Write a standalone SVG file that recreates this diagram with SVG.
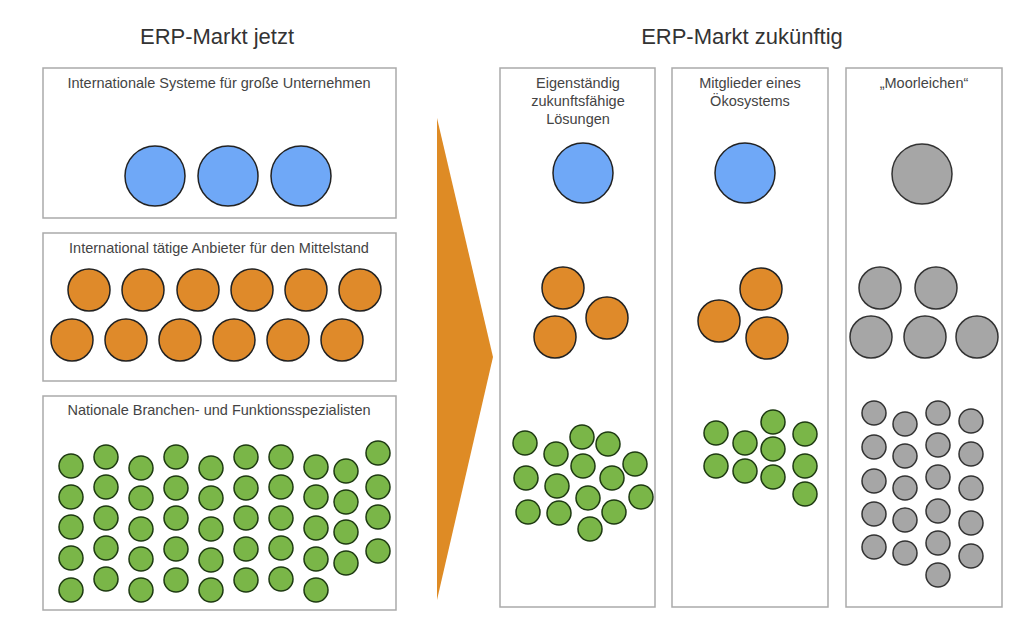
<svg xmlns="http://www.w3.org/2000/svg" width="1024" height="639" viewBox="0 0 1024 639">
<style>
text{font-family:"Liberation Sans",Arial,sans-serif;fill:#444;text-anchor:middle}
.t{font-size:22px;fill:#333}
.l{font-size:14.5px}
.box{fill:#fff;stroke:#aaa;stroke-width:1.5}
.b{fill:#6fa8f7;stroke:#222;stroke-width:1.5}
.o{fill:#df8a2a;stroke:#222;stroke-width:1.5}
.g{fill:#7ab648;stroke:#1e3a12;stroke-width:1.5}
.y{fill:#a6a6a6;stroke:#333;stroke-width:1.5}
</style>
<rect width="1024" height="639" fill="#fff"/>
<text class="t" x="217" y="44">ERP-Markt jetzt</text>
<text class="t" x="742" y="44">ERP-Markt zukünftig</text>
<rect class="box" x="43" y="68" width="353" height="150"/>
<rect class="box" x="43" y="233" width="353" height="148"/>
<rect class="box" x="43" y="396" width="353" height="214"/>
<rect class="box" x="500" y="68" width="155" height="539"/>
<rect class="box" x="672" y="68" width="156" height="539"/>
<rect class="box" x="846" y="68" width="156" height="539"/>
<text class="l" x="219" y="88">Internationale Systeme für große Unternehmen</text>
<text class="l" x="219" y="253">International tätige Anbieter für den Mittelstand</text>
<text class="l" x="219" y="415">Nationale Branchen- und Funktionsspezialisten</text>
<text class="l" x="578" y="88">Eigenständig</text>
<text class="l" x="578" y="106">zukunftsfähige</text>
<text class="l" x="578" y="124">Lösungen</text>
<text class="l" x="750" y="88">Mitglieder eines</text>
<text class="l" x="750" y="106">Ökosystems</text>
<text class="l" x="924" y="88">„Moorleichen“</text>
<polygon points="437,118 493,357 437,600" fill="#de8b25"/>
<g>
<circle class="b" cx="155" cy="176" r="30"/><circle class="b" cx="228" cy="176" r="30"/><circle class="b" cx="301" cy="176" r="30"/>
<circle class="b" cx="583" cy="173" r="30"/><circle class="b" cx="745" cy="173" r="30"/><circle class="y" cx="922" cy="174" r="30"/>
</g>
<g>
<circle class="o" cx="89" cy="290" r="21"/><circle class="o" cx="143" cy="290" r="21"/><circle class="o" cx="198" cy="290" r="21"/><circle class="o" cx="252" cy="290" r="21"/><circle class="o" cx="306" cy="290" r="21"/><circle class="o" cx="360" cy="290" r="21"/>
<circle class="o" cx="72" cy="340" r="21"/><circle class="o" cx="126" cy="340" r="21"/><circle class="o" cx="180" cy="340" r="21"/><circle class="o" cx="234" cy="340" r="21"/><circle class="o" cx="288" cy="340" r="21"/><circle class="o" cx="342" cy="340" r="21"/>
<circle class="o" cx="563" cy="288" r="21"/><circle class="o" cx="607" cy="318" r="21"/><circle class="o" cx="555" cy="337" r="21"/>
<circle class="o" cx="761" cy="289" r="21"/><circle class="o" cx="719" cy="321" r="21"/><circle class="o" cx="767" cy="338" r="21"/>
<circle class="y" cx="880" cy="288" r="21"/><circle class="y" cx="936" cy="288" r="21"/><circle class="y" cx="871" cy="337" r="21"/><circle class="y" cx="925" cy="337" r="21"/><circle class="y" cx="977" cy="337" r="21"/>
</g>
<g>
<circle class="g" cx="71" cy="466" r="12"/><circle class="g" cx="71" cy="497" r="12"/><circle class="g" cx="71" cy="527" r="12"/><circle class="g" cx="71" cy="558" r="12"/><circle class="g" cx="71" cy="590" r="12"/>
<circle class="g" cx="106" cy="457" r="12"/><circle class="g" cx="106" cy="487" r="12"/><circle class="g" cx="106" cy="518" r="12"/><circle class="g" cx="106" cy="548" r="12"/><circle class="g" cx="106" cy="579" r="12"/>
<circle class="g" cx="141" cy="468" r="12"/><circle class="g" cx="141" cy="498" r="12"/><circle class="g" cx="141" cy="529" r="12"/><circle class="g" cx="141" cy="559" r="12"/><circle class="g" cx="141" cy="590" r="12"/>
<circle class="g" cx="176" cy="457" r="12"/><circle class="g" cx="176" cy="488" r="12"/><circle class="g" cx="176" cy="518" r="12"/><circle class="g" cx="176" cy="549" r="12"/><circle class="g" cx="176" cy="580" r="12"/>
<circle class="g" cx="211" cy="468" r="12"/><circle class="g" cx="211" cy="498" r="12"/><circle class="g" cx="211" cy="529" r="12"/><circle class="g" cx="211" cy="560" r="12"/><circle class="g" cx="211" cy="590" r="12"/>
<circle class="g" cx="246" cy="457" r="12"/><circle class="g" cx="246" cy="488" r="12"/><circle class="g" cx="246" cy="518" r="12"/><circle class="g" cx="246" cy="549" r="12"/><circle class="g" cx="246" cy="580" r="12"/>
<circle class="g" cx="281" cy="457" r="12"/><circle class="g" cx="281" cy="487" r="12"/><circle class="g" cx="281" cy="518" r="12"/><circle class="g" cx="281" cy="548" r="12"/><circle class="g" cx="281" cy="579" r="12"/>
<circle class="g" cx="316" cy="467" r="12"/><circle class="g" cx="316" cy="497" r="12"/><circle class="g" cx="316" cy="528" r="12"/><circle class="g" cx="316" cy="559" r="12"/><circle class="g" cx="316" cy="590" r="12"/>
<circle class="g" cx="346" cy="471" r="12"/><circle class="g" cx="346" cy="502" r="12"/><circle class="g" cx="346" cy="532" r="12"/><circle class="g" cx="346" cy="563" r="12"/>
<circle class="g" cx="378" cy="453" r="12"/><circle class="g" cx="378" cy="487" r="12"/><circle class="g" cx="378" cy="517" r="12"/><circle class="g" cx="378" cy="551" r="12"/>
<circle class="g" cx="525" cy="443" r="12"/><circle class="g" cx="556" cy="454" r="12"/><circle class="g" cx="582" cy="437" r="12"/><circle class="g" cx="608" cy="444" r="12"/><circle class="g" cx="526" cy="478" r="12"/><circle class="g" cx="583" cy="466" r="12"/><circle class="g" cx="635" cy="464" r="12"/><circle class="g" cx="557" cy="486" r="12"/><circle class="g" cx="612" cy="478" r="12"/><circle class="g" cx="528" cy="512" r="12"/><circle class="g" cx="559" cy="513" r="12"/><circle class="g" cx="588" cy="498" r="12"/><circle class="g" cx="641" cy="497" r="12"/><circle class="g" cx="614" cy="512" r="12"/><circle class="g" cx="590" cy="529" r="12"/>
<circle class="g" cx="716" cy="433" r="12"/><circle class="g" cx="745" cy="443" r="12"/><circle class="g" cx="773" cy="422" r="12"/><circle class="g" cx="805" cy="434" r="12"/><circle class="g" cx="716" cy="466" r="12"/><circle class="g" cx="745" cy="471" r="12"/><circle class="g" cx="773" cy="449" r="12"/><circle class="g" cx="773" cy="477" r="12"/><circle class="g" cx="805" cy="466" r="12"/><circle class="g" cx="805" cy="494" r="12"/>
<circle class="y" cx="874" cy="413" r="12"/><circle class="y" cx="874" cy="447" r="12"/><circle class="y" cx="874" cy="481" r="12"/><circle class="y" cx="874" cy="514" r="12"/><circle class="y" cx="874" cy="547" r="12"/>
<circle class="y" cx="905" cy="424" r="12"/><circle class="y" cx="905" cy="456" r="12"/><circle class="y" cx="905" cy="488" r="12"/><circle class="y" cx="905" cy="520" r="12"/><circle class="y" cx="905" cy="553" r="12"/>
<circle class="y" cx="938" cy="413" r="12"/><circle class="y" cx="938" cy="445" r="12"/><circle class="y" cx="938" cy="477" r="12"/><circle class="y" cx="938" cy="511" r="12"/><circle class="y" cx="938" cy="543" r="12"/><circle class="y" cx="938" cy="575" r="12"/>
<circle class="y" cx="971" cy="421" r="12"/><circle class="y" cx="971" cy="454" r="12"/><circle class="y" cx="971" cy="488" r="12"/><circle class="y" cx="971" cy="523" r="12"/><circle class="y" cx="971" cy="556" r="12"/>
</g>
</svg>
